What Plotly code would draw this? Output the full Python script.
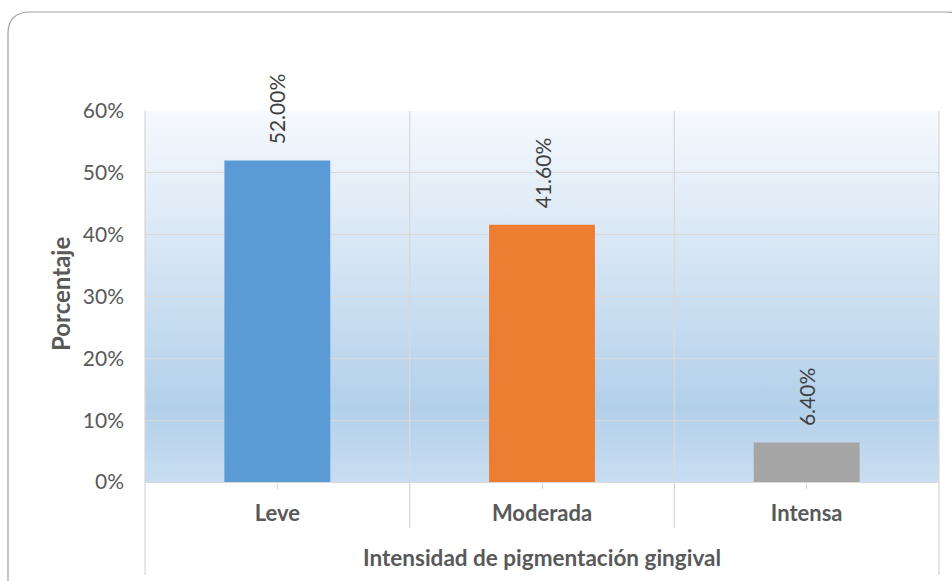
import base64
import plotly.graph_objects as go

categories = ["Leve", "Moderada", "Intensa"]
values = [52.00, 41.60, 6.40]
bar_colors = ["#5b9bd5", "#ed7d31", "#a5a5a5"]
y_ticks = [0, 10, 20, 30, 40, 50, 60]
y_tick_labels = ["0%", "10%", "20%", "30%", "40%", "50%", "60%"]
x_title = "Intensidad de pigmentación gingival"
y_title = "Porcentaje"

W, H = 952, 581
L, R, T, B = 145, 13, 111, 99
pw, ph = W - L - R, H - T - B

def px(x):
    return (x - L) / pw

def py(y):
    return (H - B - y) / ph

FONT = "Lato"
GRID = "#d9d9d9"
TXT = "#595959"

fig = go.Figure()
fig.add_trace(go.Bar(
    x=categories, y=values, marker_color=bar_colors, width=0.4,
    marker_line_width=0, hoverinfo="skip",
))

# data labels
for c, v in zip(categories, values):
    fig.add_annotation(
        x=c, y=v, text=f"{v:.2f}%", textangle=-90, showarrow=False,
        xanchor="center", yanchor="bottom", yshift=14,
        font=dict(family=FONT, size=21, color="#404040"),
    )

# gradient background image
svg = (
    '<svg xmlns="http://www.w3.org/2000/svg" width="100" height="100" '
    'viewBox="0 0 100 100" preserveAspectRatio="none">'
    '<defs><linearGradient id="g" x1="0" y1="0" x2="0" y2="1">'
    '<stop offset="0" stop-color="#f6f9fd"/>'
    '<stop offset="0.8" stop-color="#b3d0ea"/>'
    '<stop offset="1" stop-color="#c8ddf1"/>'
    '</linearGradient></defs>'
    '<rect x="0" y="0" width="100" height="100" fill="url(#g)"/></svg>'
)
src = "data:image/svg+xml;base64," + base64.b64encode(svg.encode()).decode()
fig.add_layout_image(dict(
    source=src, xref="paper", yref="paper", x=0, y=1, sizex=1, sizey=1,
    sizing="stretch", layer="below", xanchor="left", yanchor="top",
))

# category boundary lines
n = len(categories)
for i in range(n + 1):
    xp = i / n
    bottom = py(575) if i in (0, n) else py(528)
    fig.add_shape(type="line", xref="paper", yref="paper",
                  x0=xp, x1=xp, y0=1, y1=bottom,
                  line=dict(color=GRID, width=1.3), layer="above")

# outer rounded frame
x0, y0, x1, y1 = px(8), py(12), px(968), py(600)
rx = 22 / pw
ry = 22 / ph
path = (f"M {x0},{y1} L {x0},{y0 - ry} Q {x0},{y0} {x0 + rx},{y0} "
        f"L {x1 - rx},{y0} Q {x1},{y0} {x1},{y0 - ry} L {x1},{y1}")
fig.add_shape(type="path", xref="paper", yref="paper", path=path,
              line=dict(color="#a0a0a0", width=1.2))

# axis titles
fig.add_annotation(xref="paper", yref="paper", x=0.5, y=py(557),
                   text=f"<b>{x_title}</b>", showarrow=False,
                   xanchor="center", yanchor="middle",
                   font=dict(family=FONT, size=22.5, color=TXT))
fig.add_annotation(xref="paper", yref="paper", x=px(60), y=py(294),
                   text=f"<b>{y_title}</b>", showarrow=False, textangle=-90,
                   xanchor="center", yanchor="middle",
                   font=dict(family=FONT, size=24, color=TXT))

fig.update_layout(
    width=W, height=H,
    margin=dict(l=L, r=R, t=T, b=B, autoexpand=False),
    paper_bgcolor="white", plot_bgcolor="rgba(0,0,0,0)",
    showlegend=False, bargap=0.6,
    xaxis=dict(
        range=[-0.5, n - 0.5], showgrid=False, zeroline=False, showline=False,
        ticks="outside", ticklen=6, tickcolor=GRID, tickwidth=1.3,
        tickfont=dict(family=FONT, size=22, color=TXT),
        ticklabelstandoff=6,
        tickvals=categories, ticktext=[f"<b>{c}</b>" for c in categories],
        fixedrange=True,
    ),
    yaxis=dict(
        range=[0, 60], tickvals=y_ticks, ticktext=y_tick_labels,
        showgrid=True, gridcolor=GRID, gridwidth=1.3,
        zeroline=True, zerolinecolor=GRID, zerolinewidth=1.3,
        showline=False, ticks="",
        tickfont=dict(family=FONT, size=21, color=TXT),
        ticklabelstandoff=20, fixedrange=True,
    ),
)

fig.write_html("out.html", config={"displayModeBar": False},
               post_script="document.body.style.margin='0';")
